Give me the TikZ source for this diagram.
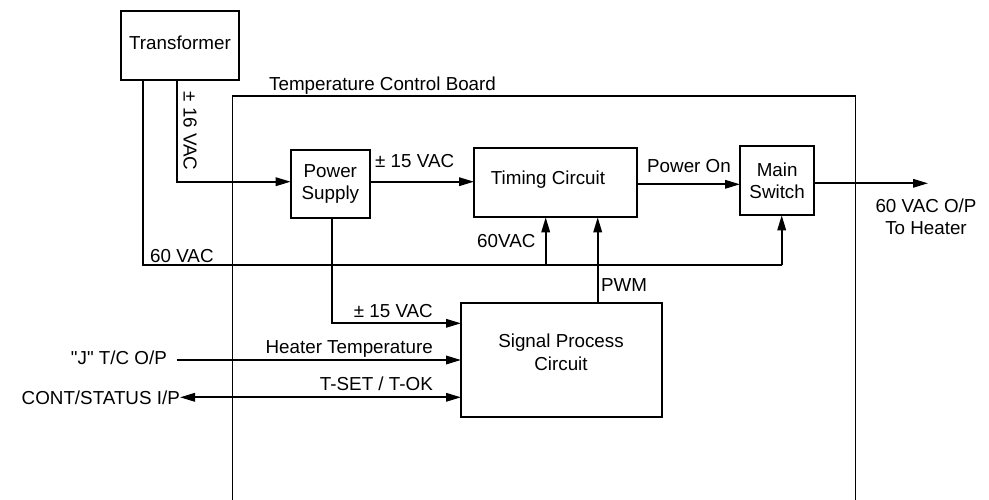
\documentclass[tikz,border=0pt]{standalone}
\usepackage{fontspec}
\setmainfont{Liberation Sans}
\usetikzlibrary{arrows.meta,calc}
\begin{document}
\begin{tikzpicture}[x=1pt,y=-1pt,
  lw/.style={line width=1.8pt},
  blk/.style={draw,lw,inner sep=0pt,outer sep=0pt},
  txt/.style={inner sep=0pt,font=\fontsize{18.8}{22.5}\selectfont},
  arr/.style={lw,-{Triangle[length=15pt,width=8.5pt]}},
  darr/.style={lw,{Triangle[length=15pt,width=8.5pt]}-{Triangle[length=15pt,width=8.5pt]}}
]
\useasboundingbox (0,0) rectangle (989,499);
% board
\coordinate (bbl) at (232.5,505);
\coordinate (btl) at (232.5,95.7);
\coordinate (btr) at (855.5,95.7);
\coordinate (bbr) at (855.5,505);
\draw[lw] (bbl) -- (btl) -- (btr) -- (bbr);
\node[txt,anchor=base west] (boardlbl) at (269,90) {Temperature Control Board};
% blocks
\node[blk,minimum width=118pt,minimum height=69pt] (tr) at (180,45.5) {};
\node[txt] (trtxt) at (180,42.5) {Transformer};
\node[blk,minimum width=79.3pt,minimum height=68pt,txt,draw,align=center] (ps) at (330.35,184) {Power\\Supply};
\node[blk,minimum width=162.7pt,minimum height=69pt] (tim) at (555.35,182.8) {};
\node[txt] (timtxt) at (548,180) {Timing Circuit};
\node[blk,minimum width=74.3pt,minimum height=69.3pt,txt,draw,align=center] (ms) at (777.15,180.65) {Main\\Switch};
\node[blk,minimum width=201pt,minimum height=114pt] (sig) at (561.5,359.7) {};
\node[txt,align=center] (sigtxt) at (561,352.5) {Signal Process\\Circuit};
% transformer outputs
\coordinate (trR) at ([xshift=-3pt]tr.south);
\coordinate (trL) at ([xshift=-37.3pt]tr.south);
\draw[arr] (trR) |- ([yshift=2.3pt]ps.west);
\node[txt,rotate=-90] (v16) at (190,131) {± 16 VAC};
\coordinate (bus60) at (trL |- 0,265);
\coordinate (busT) at (545.7,265);
\coordinate (busR) at (781.7,265);
\draw[lw] (trL) -- (bus60) -- (busR);
\draw[arr] (busT) -- (busT |- tim.south);
\draw[arr] (busR) -- (busR |- ms.south);
\node[txt,anchor=base west] (v60) at (150,262) {60 VAC};
\node[txt,anchor=base west] (v60b) at (477,247) {60VAC};
% ps to timing
\draw[arr] ([yshift=2.3pt]ps.east) -- ([yshift=2.3pt]ps.east -| tim.west);
\node[txt,anchor=base west] (v15a) at (375,167) {± 15 VAC};
% power on
\draw[arr] ([yshift=-1.5pt]tim.east) -- ([yshift=-1.5pt]tim.east -| ms.west);
\node[txt,anchor=base west] (pon) at (647,172) {Power On};
% output
\coordinate (outE) at (928,183.3);
\draw[arr] (ms.east |- outE) -- (outE);
\node[txt,align=center] (out) at (926,217) {60 VAC O/P\\To Heater};
% PWM
\coordinate (pwm) at (597.7,265);
\draw[arr] (pwm |- sig.north) -- (pwm |- tim.south);
\node[txt,anchor=base west] (pwml) at (601,291) {PWM};
% ps to signal
\coordinate (psd) at (331.7,323.3);
\draw[arr] (psd |- ps.south) -- (psd) -- (psd -| sig.west);
\node[txt,anchor=base east] (v15b) at (433,317) {± 15 VAC};
% heater temp
\coordinate (jin) at (176.7,360);
\draw[arr] (jin) -- (jin -| sig.west);
\node[txt,anchor=base east] (jl) at (167,364) {\textquotedbl J\textquotedbl{} T/C O/P};
\node[txt,anchor=base east] (ht) at (433,353.5) {Heater Temperature};
% T-SET
\coordinate (cin) at (180,397.3);
\draw[darr] (cin) -- (cin -| sig.west);
\node[txt,anchor=base east] (cl) at (180,404) {CONT/STATUS I/P};
\node[txt,anchor=base east] (tset) at (433,390) {T-SET / T-OK};
\end{tikzpicture}
\end{document}
